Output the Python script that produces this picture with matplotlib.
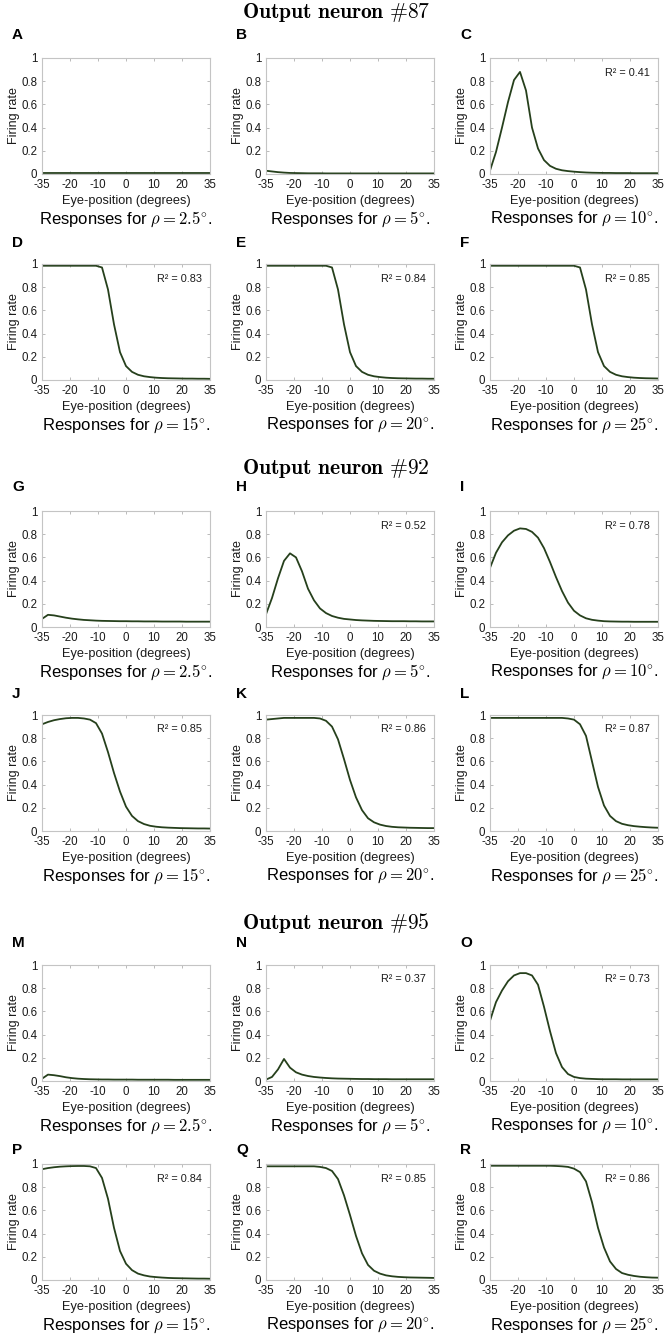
import matplotlib
matplotlib.use("Agg")
import matplotlib.pyplot as plt
import numpy as np

plt.rcParams['font.family'] = ['Liberation Sans', 'DejaVu Sans']
plt.rcParams['mathtext.fontset'] = 'cm'

# ---------------- data ----------------
eye_position = [-35, -32.5, -30, -27.5, -25, -22.5, -20, -17.5, -15, -12.5, -10, -7.5, -5, -2.5,
                0, 2.5, 5, 7.5, 10, 12.5, 15, 17.5, 20, 22.5, 25, 27.5, 30, 32.5, 35]
xtick_labels = ['-35', '-20', '-10', '0', '10', '20', '35']
ytick_values = [0, 0.2, 0.4, 0.6, 0.8, 1]
ytick_labels = ['0', '0.2', '0.4', '0.6', '0.8', '1']

neurons = [87, 92, 95]
rho_values = ['2.5', '5', '10', '15', '20', '25']
panel_letters = ['A', 'B', 'C', 'D', 'E', 'F', 'G', 'H', 'I', 'J', 'K', 'L', 'M', 'N', 'O', 'P', 'Q', 'R']

# neuron 87
resp_A = [0.006, 0.006, 0.006, 0.006, 0.006, 0.006, 0.006, 0.006, 0.006, 0.006, 0.006, 0.006, 0.006, 0.006,
          0.006, 0.006, 0.006, 0.006, 0.006, 0.006, 0.006, 0.006, 0.006, 0.006, 0.006, 0.006, 0.006, 0.006, 0.006]
resp_B = [0.028, 0.022, 0.016, 0.012, 0.009, 0.008, 0.007, 0.006, 0.006, 0.006, 0.005, 0.005, 0.005, 0.005,
          0.005, 0.005, 0.005, 0.005, 0.005, 0.005, 0.005, 0.005, 0.005, 0.005, 0.005, 0.005, 0.005, 0.005, 0.005]
resp_C = [0.03, 0.19, 0.40, 0.62, 0.81, 0.88, 0.72, 0.40, 0.22, 0.12, 0.07, 0.045, 0.032, 0.025,
          0.02, 0.016, 0.013, 0.011, 0.01, 0.009, 0.009, 0.008, 0.008, 0.008, 0.007, 0.007, 0.007, 0.007, 0.007]
resp_D = [0.985, 0.985, 0.985, 0.985, 0.985, 0.985, 0.985, 0.985, 0.985, 0.985, 0.97, 0.78, 0.48, 0.24,
          0.12, 0.07, 0.045, 0.032, 0.025, 0.02, 0.017, 0.015, 0.014, 0.013, 0.012, 0.012, 0.011, 0.011, 0.01]
resp_E = [0.985, 0.985, 0.985, 0.985, 0.985, 0.985, 0.985, 0.985, 0.985, 0.985, 0.985, 0.97, 0.78, 0.48,
          0.24, 0.12, 0.07, 0.045, 0.032, 0.025, 0.02, 0.017, 0.015, 0.014, 0.013, 0.012, 0.012, 0.011, 0.011]
resp_F = [0.985, 0.985, 0.985, 0.985, 0.985, 0.985, 0.985, 0.985, 0.985, 0.985, 0.985, 0.985, 0.985, 0.985,
          0.985, 0.97, 0.78, 0.48, 0.24, 0.12, 0.07, 0.045, 0.032, 0.025, 0.02, 0.017, 0.015, 0.014, 0.013]
# neuron 92
resp_G = [0.07, 0.105, 0.10, 0.09, 0.08, 0.072, 0.066, 0.061, 0.058, 0.055, 0.053, 0.052, 0.051, 0.05,
          0.05, 0.049, 0.049, 0.048, 0.048, 0.048, 0.047, 0.047, 0.047, 0.047, 0.046, 0.046, 0.046, 0.046, 0.046]
resp_H = [0.11, 0.25, 0.42, 0.57, 0.635, 0.60, 0.48, 0.33, 0.23, 0.16, 0.12, 0.095, 0.08, 0.07,
          0.065, 0.06, 0.057, 0.055, 0.053, 0.052, 0.051, 0.05, 0.05, 0.05, 0.049, 0.049, 0.048, 0.048, 0.048]
resp_I = [0.51, 0.64, 0.73, 0.79, 0.83, 0.85, 0.845, 0.82, 0.77, 0.68, 0.56, 0.43, 0.31, 0.21,
          0.14, 0.10, 0.075, 0.062, 0.055, 0.05, 0.048, 0.047, 0.046, 0.046, 0.045, 0.045, 0.045, 0.045, 0.045]
resp_J = [0.92, 0.94, 0.955, 0.965, 0.972, 0.975, 0.975, 0.97, 0.96, 0.93, 0.84, 0.68, 0.50, 0.34,
          0.21, 0.13, 0.085, 0.06, 0.045, 0.037, 0.032, 0.029, 0.027, 0.025, 0.024, 0.023, 0.022, 0.022, 0.021]
resp_K = [0.96, 0.965, 0.97, 0.975, 0.975, 0.975, 0.975, 0.975, 0.975, 0.97, 0.95, 0.90, 0.79, 0.62,
          0.44, 0.29, 0.18, 0.11, 0.075, 0.055, 0.043, 0.036, 0.032, 0.03, 0.028, 0.027, 0.026, 0.025, 0.025]
resp_L = [0.975, 0.975, 0.975, 0.975, 0.975, 0.975, 0.975, 0.975, 0.975, 0.975, 0.975, 0.975, 0.975, 0.97,
          0.96, 0.92, 0.82, 0.60, 0.38, 0.22, 0.13, 0.085, 0.062, 0.05, 0.042, 0.037, 0.033, 0.03, 0.028]
# neuron 95
resp_M = [0.02, 0.055, 0.05, 0.042, 0.032, 0.025, 0.02, 0.017, 0.015, 0.014, 0.013, 0.013, 0.012, 0.012,
          0.012, 0.012, 0.011, 0.011, 0.011, 0.011, 0.011, 0.011, 0.01, 0.01, 0.01, 0.01, 0.01, 0.01, 0.01]
resp_N = [0.012, 0.035, 0.10, 0.19, 0.115, 0.075, 0.055, 0.043, 0.035, 0.03, 0.026, 0.023, 0.021, 0.02,
          0.019, 0.018, 0.017, 0.017, 0.016, 0.016, 0.016, 0.015, 0.015, 0.015, 0.015, 0.015, 0.015, 0.015, 0.015]
resp_O = [0.52, 0.68, 0.78, 0.86, 0.91, 0.93, 0.93, 0.91, 0.83, 0.64, 0.43, 0.24, 0.12, 0.06,
          0.035, 0.025, 0.02, 0.018, 0.016, 0.015, 0.015, 0.015, 0.014, 0.014, 0.014, 0.014, 0.014, 0.014, 0.014]
resp_P = [0.955, 0.965, 0.972, 0.977, 0.98, 0.982, 0.983, 0.983, 0.98, 0.965, 0.88, 0.70, 0.45, 0.25,
          0.14, 0.085, 0.055, 0.04, 0.03, 0.025, 0.021, 0.018, 0.016, 0.015, 0.014, 0.013, 0.012, 0.012, 0.011]
resp_Q = [0.98, 0.98, 0.98, 0.98, 0.98, 0.98, 0.98, 0.98, 0.98, 0.975, 0.965, 0.94, 0.87, 0.73,
          0.56, 0.38, 0.23, 0.13, 0.08, 0.055, 0.04, 0.032, 0.027, 0.024, 0.022, 0.021, 0.02, 0.019, 0.018]
resp_R = [0.985, 0.985, 0.985, 0.985, 0.985, 0.985, 0.985, 0.985, 0.985, 0.985, 0.985, 0.983, 0.98, 0.975,
          0.96, 0.93, 0.85, 0.67, 0.45, 0.28, 0.16, 0.095, 0.06, 0.045, 0.035, 0.028, 0.024, 0.021, 0.02]

responses = [resp_A, resp_B, resp_C, resp_D, resp_E, resp_F,
             resp_G, resp_H, resp_I, resp_J, resp_K, resp_L,
             resp_M, resp_N, resp_O, resp_P, resp_Q, resp_R]
r_squared = [None, None, '0.41', '0.83', '0.84', '0.85',
             None, '0.52', '0.78', '0.85', '0.86', '0.87',
             None, '0.37', '0.73', '0.84', '0.85', '0.86']

# ---------------- layout (pixels) ----------------
W, H = 672, 1339
fig = plt.figure(figsize=(W / 100, H / 100), dpi=100)

col_left = [42, 266, 490]
ax_w, ax_h = 168, 116
row_top = [58, 264, 511, 715, 965, 1164]
letter_y = [35, 243, 487, 694, 943, 1150]
title_y = [12, 469, 923]

line_color = '#26401c'
spine_color = '#c4c4c4'
text_color = '#1a1a1a'


def fx(px):
    return px / W


def fy(py):
    return 1 - py / H


for i in range(18):
    row, col = divmod(i, 3)
    left, top = col_left[col], row_top[row]
    ax = fig.add_axes([fx(left), fy(top + ax_h), ax_w / W, ax_h / H])
    ax.plot(eye_position, responses[i], color=line_color, lw=1.3, solid_joinstyle='round')
    ax.set_xlim(-35, 35)
    ax.set_ylim(0, 1)
    ax.set_xticks(np.linspace(-35, 35, 7))
    ax.set_xticklabels(xtick_labels)
    ax.set_yticks(ytick_values)
    ax.set_yticklabels(ytick_labels)
    ax.tick_params(direction='in', length=2, width=0.6, color='#b0b0b0',
                   top=True, right=True, labelsize=8.3, labelcolor=text_color)
    ax.tick_params(axis='x', pad=3.5)
    ax.tick_params(axis='y', pad=3.5)
    for s in ax.spines.values():
        s.set_color(spine_color)
        s.set_linewidth(0.8)
    ax.set_ylabel('Firing rate', fontsize=9, color=text_color, labelpad=0.5)
    cx = left + ax_w / 2
    bottom = top + ax_h
    fig.text(fx(cx), fy(bottom + 27), 'Eye-position (degrees)', fontsize=9.2,
             color=text_color, ha='center', va='center')
    rho = rho_values[(row % 2) * 3 + col]
    fig.text(fx(cx), fy(bottom + 45), r'Responses for $\rho = %s^{\circ}$.' % rho,
             fontsize=12, color='black', ha='center', va='center')
    fig.text(fx(left - 30), fy(letter_y[row]), panel_letters[i], fontsize=11,
             fontweight='bold', color='black', ha='left', va='center')
    if r_squared[i] is not None:
        ax.text(0.95, 0.875, 'R\u00b2 = ' + r_squared[i], transform=ax.transAxes,
                fontsize=7.8, color=text_color, ha='right', va='center')

for k, nid in enumerate(neurons):
    fig.text(0.5, fy(title_y[k]), r'$\mathbf{Output\ neuron\ \#%d}$' % nid,
             fontsize=15.5, ha='center', va='center', color='black')

fig.savefig('out.png', dpi=100, facecolor='white')
